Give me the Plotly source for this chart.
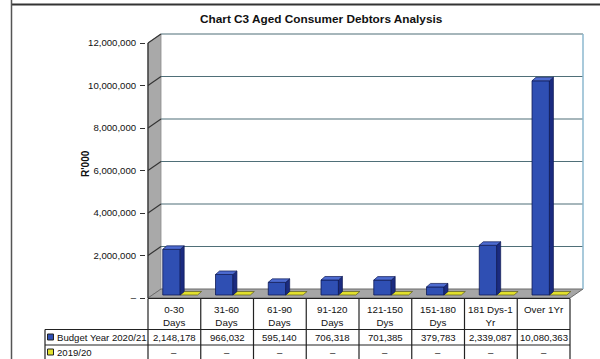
import plotly.graph_objects as go

# ---------------- data ----------------
categories = ["0-30 Days", "31-60 Days", "61-90 Days", "91-120 Days",
              "121-150 Dys", "151-180 Dys", "181 Dys-1 Yr", "Over 1Yr"]
header_labels = ["0-30<br>Days", "31-60<br>Days", "61-90<br>Days", "91-120<br>Days",
                 "121-150<br>Dys", "151-180<br>Dys", "181 Dys-1<br>Yr", "Over 1Yr"]
budget_2020_21 = [2148178, 966032, 595140, 706318, 701385, 379783, 2339087, 10080363]
year_2019_20 = [0, 0, 0, 0, 0, 0, 0, 0]
series_names = ["Budget Year 2020/21", "2019/20"]
y_ticks = [0, 2000000, 4000000, 6000000, 8000000, 10000000, 12000000]
y_tick_labels = ["–", "2,000,000", "4,000,000", "6,000,000", "8,000,000", "10,000,000", "12,000,000"]
title_text = "Chart C3 Aged Consumer Debtors Analysis"
y_title = "R'000"

# ---------------- geometry ----------------
W, H = 600, 359
FRONT_L, FRONT_R = 148, 570          # front plane x pixels
FRONT_B, FRONT_T = 298, 43           # y pixel of 0 and of 12M
N = len(categories)
COLPX = (FRONT_R - FRONT_L) / N
YMAX = 12000000
PXY = (FRONT_B - FRONT_T) / YMAX
DEPX, DEPY = 13, 9                   # wall depth in px
DXU = DEPX / COLPX
DY = DEPY / PXY
PAD = 2
x_range = [-0.5 - PAD / COLPX, N - 0.5 + DXU + PAD / COLPX]
y_range = [0, YMAX + DY + PAD / PXY]
ML = FRONT_L - PAD
MR = W - (FRONT_R + DEPX + PAD)
MT = FRONT_T - DEPY - PAD
MB = H - FRONT_B
PW = W - ML - MR
PH = H - MT - MB


def P(X, Y):
    return (X - ML) / PW, (FRONT_B - Y) / PH


FONT = "Liberation Sans, Arial, sans-serif"
FS = 9.6
BLUE, BLUE_SIDE, BLUE_TOP, BLUE_EDGE = "#2f4fb3", "#1b2b80", "#4d6bd0", "#0f1a55"
YEL, YEL_EDGE = "#e2e02c", "#5a5a20"

# bar placement (category units)
B_OFF, B_W = -0.22, 0.33
Y_OFF = B_OFF + B_W
BDX = 4 / COLPX
BDY = 3.5 / PXY
BASE = 3 / PXY

fig = go.Figure()
fig.add_trace(go.Bar(x=list(range(N)), y=year_2019_20, base=BASE, offset=Y_OFF, width=B_W,
                     marker=dict(color=YEL, line=dict(width=0)), name=series_names[1],
                     hoverinfo="skip"))
fig.add_trace(go.Bar(x=list(range(N)), y=budget_2020_21, base=BASE, offset=B_OFF, width=B_W,
                     marker=dict(color=BLUE, line=dict(color=BLUE_EDGE, width=0.8)),
                     name=series_names[0], hoverinfo="skip"))

shapes = []
# back wall
shapes.append(dict(type="rect", xref="x", yref="y", x0=-0.5 + DXU, x1=N - 0.5 + DXU,
                   y0=DY, y1=YMAX + DY, fillcolor="white", line=dict(width=0), layer="below"))
# left wall
shapes.append(dict(type="path", xref="x", yref="y",
                   path=f"M {-0.5},{0} L {-0.5},{YMAX} L {-0.5 + DXU},{YMAX + DY} L {-0.5 + DXU},{DY} Z",
                   fillcolor="#a9a9a9", line=dict(color="#8a8a8a", width=0.8), layer="below"))
# floor
shapes.append(dict(type="path", xref="x", yref="y",
                   path=f"M {-0.5},{0} L {N - 0.5},{0} L {N - 0.5 + DXU},{DY} L {-0.5 + DXU},{DY} Z",
                   fillcolor="#a6a6a6", line=dict(color="#6a6a6a", width=1), layer="below"))
# gridlines
for t in y_ticks[1:]:
    shapes.append(dict(type="line", xref="x", yref="y", x0=-0.5 + DXU, x1=N - 0.5 + DXU,
                       y0=t + DY, y1=t + DY, line=dict(color="#4f6f78", width=1.2), layer="below"))
    shapes.append(dict(type="line", xref="x", yref="y", x0=-0.5, x1=-0.5 + DXU,
                       y0=t, y1=t + DY, line=dict(color="#333333", width=1.1), layer="below"))
# right edge of back wall
shapes.append(dict(type="line", xref="x", yref="y", x0=N - 0.5 + DXU, x1=N - 0.5 + DXU,
                   y0=DY, y1=YMAX + DY, line=dict(color="#8cb8cf", width=1.5), layer="below"))
# front vertical axis line
shapes.append(dict(type="line", xref="x", yref="y", x0=-0.5, x1=-0.5, y0=0, y1=YMAX,
                   line=dict(color="#333333", width=1.3), layer="below"))

# yellow (zero) tops
for i, v in enumerate(year_2019_20):
    x0 = i + Y_OFF
    x1 = x0 + B_W
    top = BASE + v
    shapes.append(dict(type="path", xref="x", yref="y",
                       path=f"M {x0},{top} L {x1},{top} L {x1 + BDX},{top + BDY} L {x0 + BDX},{top + BDY} Z",
                       fillcolor=YEL, line=dict(color=YEL_EDGE, width=0.7)))
# blue 3D faces
for i, v in enumerate(budget_2020_21):
    x0 = i + B_OFF
    x1 = x0 + B_W
    top = BASE + v
    shapes.append(dict(type="path", xref="x", yref="y",
                       path=f"M {x1},{BASE} L {x1},{top} L {x1 + BDX},{top + BDY} L {x1 + BDX},{BASE + BDY} Z",
                       fillcolor=BLUE_SIDE, line=dict(color=BLUE_EDGE, width=0.7)))
    shapes.append(dict(type="path", xref="x", yref="y",
                       path=f"M {x0},{top} L {x1},{top} L {x1 + BDX},{top + BDY} L {x0 + BDX},{top + BDY} Z",
                       fillcolor=BLUE_TOP, line=dict(color=BLUE_EDGE, width=0.7)))

# ---------------- table ----------------
LINE = dict(color="#222222", width=1.2)
T_TOP, T_R1, T_R2, T_BOT = 298.5, 329.5, 345, 359.5
LEG_L = 45
col_edges = [FRONT_L + COLPX * k for k in range(N + 1)]


def pline(X0, Y0, X1, Y1, line=LINE):
    a, b = P(X0, Y0)
    c, d = P(X1, Y1)
    shapes.append(dict(type="line", xref="paper", yref="paper", x0=a, y0=b, x1=c, y1=d, line=line))


pline(FRONT_L, T_TOP, FRONT_R, T_TOP)
pline(LEG_L, T_R1, FRONT_R, T_R1)
pline(LEG_L, T_R2, FRONT_R, T_R2)
pline(LEG_L, T_BOT, FRONT_R, T_BOT)
pline(LEG_L, T_R1, LEG_L, T_BOT)
for xe in col_edges:
    pline(xe, T_TOP, xe, T_BOT)

# outer frame
pline(11, 4.5, 600, 4.5, dict(color="#333333", width=2))
pline(11.5, 0, 11.5, 359, dict(color="#555555", width=1.5))


def prect(X0, Y0, X1, Y1, fill):
    a, b = P(X0, Y0)
    c, d = P(X1, Y1)
    shapes.append(dict(type="rect", xref="paper", yref="paper", x0=a, y0=b, x1=c, y1=d,
                       fillcolor=fill, line=dict(color="#222222", width=1)))


prect(47.5, 334, 53.5, 340, BLUE)
prect(47.5, 349, 53.5, 355, YEL)

annotations = []


def ptext(X, Y, text, size=FS, xanchor="center", yanchor="middle", bold=False, angle=0):
    a, b = P(X, Y)
    annotations.append(dict(xref="paper", yref="paper", x=a, y=b, text=f"<b>{text}</b>" if bold else text,
                            showarrow=False, xanchor=xanchor, yanchor=yanchor, textangle=angle,
                            font=dict(family=FONT, size=size, color="#111111")))


for i in range(N):
    cx = (col_edges[i] + col_edges[i + 1]) / 2
    ptext(cx, 301.5, header_labels[i], yanchor="top", size=9.8)
    ptext(cx, 337.5, f"{budget_2020_21[i]:,}")
    ptext(cx, 352.5, "–" if year_2019_20[i] == 0 else f"{year_2019_20[i]:,}")

ptext(55, 337.5, series_names[0], xanchor="left")
ptext(55, 352.5, series_names[1], xanchor="left")
ptext(321, 19, title_text, size=11.8, bold=True)
ptext(85, 164, y_title, size=10, bold=True, angle=-90)

fig.update_layout(
    width=W, height=H, margin=dict(l=ML, r=MR, t=MT, b=MB, pad=0),
    paper_bgcolor="white", plot_bgcolor="rgba(0,0,0,0)",
    showlegend=False, barmode="overlay",
    shapes=shapes, annotations=annotations,
    xaxis=dict(range=x_range, showgrid=False, zeroline=False, showticklabels=False,
               showline=False, ticks="", fixedrange=True),
    yaxis=dict(range=y_range, showgrid=False, zeroline=False, showline=False,
               tickmode="array", tickvals=y_ticks, ticktext=y_tick_labels,
               ticks="outside", ticklen=5, tickwidth=1.2, tickcolor="#333333",
               tickfont=dict(family=FONT, size=FS, color="#111111"), ticklabelstandoff=2),
)

fig.write_html("out.html")
